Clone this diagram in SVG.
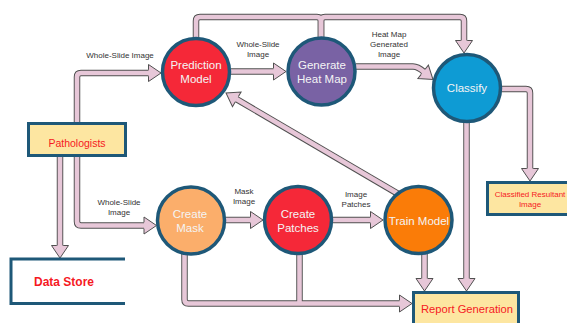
<svg xmlns="http://www.w3.org/2000/svg" width="567" height="323" viewBox="0 0 567 323">
<defs>
<style>
.bg{fill:#ffffff}
.ol{fill:none;stroke:#505050;stroke-width:6.5;stroke-linejoin:round;stroke-linecap:butt}
.pk{fill:none;stroke:#e7c7d8;stroke-width:4.6;stroke-linejoin:round;stroke-linecap:butt}
.head{fill:#e7c7d8;stroke:#505050;stroke-width:1}
.node{stroke:#1e5878;stroke-width:3.5}
.box{fill:#fde6a1;stroke:#1e5878;stroke-width:3}
.ntext{font-family:"Liberation Sans",Arial,sans-serif;font-size:11.5px;fill:#f4f4f4;text-anchor:middle}
.btext{font-family:"Liberation Sans",Arial,sans-serif;fill:#f5191f;text-anchor:middle}
.lbl{font-family:"Liberation Sans",Arial,sans-serif;font-size:8px;fill:#333333;text-anchor:middle}
</style>
<path id="ah" d="M-12.5,3.2 L-12.5,8.5 L0,0 L-12.5,-8.5 L-12.5,-3.2"/>
</defs>
<rect class="bg" x="0" y="0" width="567" height="323"/>

<g id="connectors">
  <g id="bodies-outline" class="ol">
    <path d="M77,124 V77 Q77,73 81,73 H149"/>
    <path d="M231,71.5 H274"/>
    <path d="M196,40 V21 Q196,17 200,17 H317 Q321,17 321,21 V40"/>
    <path d="M321,40 V21 Q321,17 325,17 H460 Q464,17 464,21 V41"/>
    <path d="M356,66.5 H413 Q418,66.5 424,72"/>
    <path d="M501,89 H526 Q530,89 530,93 V169"/>
    <path d="M466.5,120 V279"/>
    <path d="M424.5,250 V279"/>
    <path d="M398.5,194.1 L236.4,99.1"/>
    <path d="M77,156 V221.5 Q77,225.5 81,225.5 H144"/>
    <path d="M60,156 V246"/>
    <path d="M225,220 H251"/>
    <path d="M332,220 H371"/>
    <path d="M184.5,252 V299.5 Q184.5,303.5 188.5,303.5 H400"/>
    <path d="M299.5,252 V303.5"/>
  </g>
  <g id="bodies-fill" class="pk">
    <path d="M77,124 V77 Q77,73 81,73 H149"/>
    <path d="M231,71.5 H274"/>
    <path d="M196,40 V21 Q196,17 200,17 H317 Q321,17 321,21 V40"/>
    <path d="M321,40 V21 Q321,17 325,17 H460 Q464,17 464,21 V41"/>
    <path d="M356,66.5 H413 Q418,66.5 424,72"/>
    <path d="M501,89 H526 Q530,89 530,93 V169"/>
    <path d="M466.5,120 V279"/>
    <path d="M424.5,250 V279"/>
    <path d="M398.5,194.1 L236.4,99.1"/>
    <path d="M77,156 V221.5 Q77,225.5 81,225.5 H144"/>
    <path d="M60,156 V246"/>
    <path d="M225,220 H251"/>
    <path d="M332,220 H371"/>
    <path d="M184.5,252 V299.5 Q184.5,303.5 188.5,303.5 H400"/>
    <path d="M299.5,252 V303.5"/>
  </g>
  <g id="heads" class="head">
    <use href="#ah" transform="translate(161,73)"/>
    <use href="#ah" transform="translate(286,71.5)"/>
    <use href="#ah" transform="translate(464,53) rotate(90)"/>
    <use href="#ah" transform="translate(433,79.5) rotate(38)"/>
    <use href="#ah" transform="translate(530,181) rotate(90)"/>
    <use href="#ah" transform="translate(466.5,291) rotate(90)"/>
    <use href="#ah" transform="translate(424.5,291) rotate(90)"/>
    <use href="#ah" transform="translate(226,93) rotate(210.36)"/>
    <use href="#ah" transform="translate(156.5,225.5)"/>
    <use href="#ah" transform="translate(60,258) rotate(90)"/>
    <use href="#ah" transform="translate(263,220)"/>
    <use href="#ah" transform="translate(383,220)"/>
    <use href="#ah" transform="translate(412,303.5)"/>
  </g>
  <g id="labels" class="lbl">
    <text x="120" y="58">Whole-Slide Image</text>
    <text x="258" y="47">Whole-Slide</text>
    <text x="258" y="57">Image</text>
    <text x="389" y="37">Heat Map</text>
    <text x="389" y="47">Generated</text>
    <text x="389" y="57">Image</text>
    <text x="119" y="205">Whole-Slide</text>
    <text x="119" y="215">Image</text>
    <text x="244" y="194">Mask</text>
    <text x="244" y="204">Image</text>
    <text x="356" y="197">Image</text>
    <text x="356" y="207">Patches</text>
  </g>
</g>

<g id="prediction-model">
  <circle class="node" cx="196" cy="72" r="33.5" fill="#f52838"/>
  <text class="ntext" x="196" y="69">Prediction</text>
  <text class="ntext" x="196" y="83">Model</text>
</g>
<g id="generate-heat-map">
  <circle class="node" cx="321.5" cy="71.5" r="33.5" fill="#7962a4"/>
  <text class="ntext" x="322" y="69">Generate</text>
  <text class="ntext" x="322" y="83">Heat Map</text>
</g>
<g id="classify">
  <circle class="node" cx="467" cy="88" r="33.5" fill="#0e9bd4"/>
  <text class="ntext" x="467" y="92">Classify</text>
</g>
<g id="create-mask">
  <circle class="node" cx="191" cy="220.5" r="33.5" fill="#fbae6b"/>
  <text class="ntext" x="190" y="218">Create</text>
  <text class="ntext" x="190" y="232">Mask</text>
</g>
<g id="create-patches">
  <circle class="node" cx="298" cy="220" r="33.5" fill="#f52838"/>
  <text class="ntext" x="298" y="218">Create</text>
  <text class="ntext" x="298" y="232">Patches</text>
</g>
<g id="train-model">
  <circle class="node" cx="418.5" cy="220" r="33.5" fill="#fa7c08"/>
  <text class="ntext" x="419" y="225">Train Model</text>
</g>
<g id="pathologists">
  <rect class="box" x="28.5" y="123.5" width="97" height="32"/>
  <text class="btext" x="77" y="146.5" font-size="10.5">Pathologists</text>
</g>
<g id="report-generation">
  <rect class="box" x="413.5" y="292.5" width="105" height="40"/>
  <text class="btext" x="467" y="313" font-size="11.2">Report Generation</text>
</g>
<g id="classified-resultant-image">
  <rect class="box" x="487.5" y="182.5" width="90" height="32"/>
  <text class="btext" x="530" y="197" font-size="8">Classified Resultant</text>
  <text class="btext" x="530" y="207" font-size="8">Image</text>
</g>
<g id="data-store">
  <path d="M125,259 H11 V303.5 H125" fill="none" stroke="#1e5878" stroke-width="3"/>
  <text class="btext" x="64" y="286" font-size="12" font-weight="bold">Data Store</text>
</g>
</svg>
